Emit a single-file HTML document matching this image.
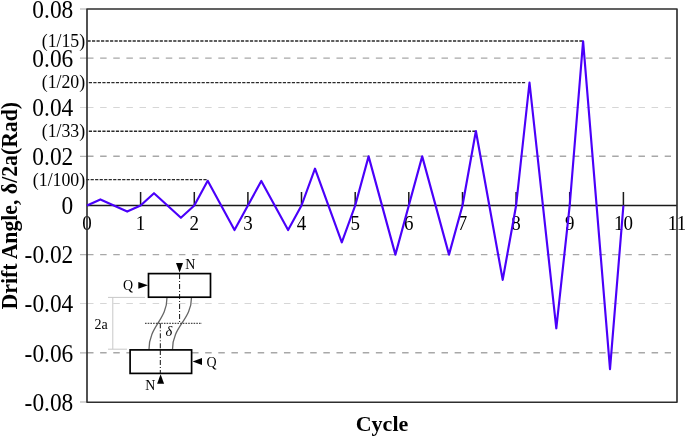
<!DOCTYPE html>
<html><head><meta charset="utf-8">
<style>
html,body{margin:0;padding:0;background:#fff;}
body{width:685px;height:438px;overflow:hidden;}
svg{display:block;will-change:transform;}
text{font-family:"Liberation Serif",serif;}
</style></head>
<body>
<svg width="685" height="438" viewBox="0 0 685 438">
<rect x="0" y="0" width="685" height="438" fill="#fff"/>
<!-- y tick labels -->
<g font-size="24" text-anchor="end" fill="#000">
<text transform="translate(73.3,17.70) scale(0.975,1.09)">0.08</text>
<text transform="translate(73.3,66.82) scale(0.975,1.09)">0.06</text>
<text transform="translate(73.3,115.95) scale(0.975,1.09)">0.04</text>
<text transform="translate(73.3,165.08) scale(0.975,1.09)">0.02</text>
<text transform="translate(73.3,214.20) scale(0.975,1.09)">0</text>
<text transform="translate(73.3,263.32) scale(0.975,1.09)">-0.02</text>
<text transform="translate(73.3,312.45) scale(0.975,1.09)">-0.04</text>
<text transform="translate(73.3,361.58) scale(0.975,1.09)">-0.06</text>
<text transform="translate(73.3,410.70) scale(0.975,1.09)">-0.08</text>
</g>
<g font-size="17.8" text-anchor="end" fill="#000">
<text x="85.2" y="46.5">(1/15)</text>
<text x="85.2" y="87.5">(1/20)</text>
<text x="85.2" y="136.6">(1/33)</text>
<text x="85.2" y="185.7">(1/100)</text>
</g>
<!-- x tick labels -->
<g font-size="20" text-anchor="middle" fill="#000">
<text transform="translate(87.0,230.3) scale(0.95,1)">0</text>
<text transform="translate(140.6,230.3) scale(0.95,1)">1</text>
<text transform="translate(194.3,230.3) scale(0.95,1)">2</text>
<text transform="translate(247.9,230.3) scale(0.95,1)">3</text>
<text transform="translate(301.5,230.3) scale(0.95,1)">4</text>
<text transform="translate(355.2,230.3) scale(0.95,1)">5</text>
<text transform="translate(408.8,230.3) scale(0.95,1)">6</text>
<text transform="translate(462.5,230.3) scale(0.95,1)">7</text>
<text transform="translate(516.1,230.3) scale(0.95,1)">8</text>
<text transform="translate(569.7,230.3) scale(0.95,1)">9</text>
<text transform="translate(623.4,230.3) scale(0.95,1)">10</text>
<text transform="translate(677.0,230.3) scale(0.95,1)">11</text>
</g>
<!-- axis titles -->
<text x="382" y="431.1" font-size="22" font-weight="bold" text-anchor="middle">Cycle</text>
<text transform="translate(16.5,205.7) rotate(-90) scale(1,1.055)" font-size="21.75" font-weight="bold" text-anchor="middle">Drift Angle, δ/2a(Rad)</text>
<!-- gridlines -->
<g fill="none">
<path d="M80 58.1H87M80 156.3H87M80 254.6H87M80 352.8H87" stroke="#b4b4b4" stroke-width="1.3"/>
<path d="M80 107.5H87M80 303.5H87" stroke="#d8d8d8" stroke-width="1"/>
<path d="M80 9H87M80 402H87" stroke="#c8c8c8" stroke-width="1.3"/>
<g stroke="#a8a8a8" stroke-width="1.4" stroke-dasharray="6.5 6.63">
<path d="M87 58.1H671"/>
<path d="M87 156.3H671"/>
<path d="M87 254.6H671"/>
<path d="M87 352.8H671"/>
</g>
<g stroke="#d6d6d6" stroke-width="1" stroke-dasharray="6.5 6.63">
<path d="M87 107.5H671"/>
<path d="M87 303.5H671"/>
</g>
</g>
<!-- reference dashed lines -->
<g stroke="#2a2a2a" stroke-width="1.4" fill="none" stroke-dasharray="3.2 1.312">
<path d="M87.49 41H582.5"/>
<path d="M88.8 82.6H525.5"/>
<path d="M88.8 131.2H475"/>
<path d="M86.09 179.6H207"/>
</g>
<!-- x ticks and zero line -->
<g stroke="#1a1a1a" stroke-width="1.5" fill="none">
<path d="M87 205.5H677"/>
<path d="M140.6 192V205.5M194.3 192V205.5M247.9 192V205.5M301.5 192V205.5M355.2 192V205.5M408.8 192V205.5M462.5 192V205.5M516.1 192V205.5M569.7 192V205.5M623.4 192V205.5"/>
</g>
<!-- frame -->
<rect x="87" y="9" width="590" height="393.2" fill="none" stroke="#2e2e2e" stroke-width="1.65" stroke-linejoin="round"/>
<!-- inset diagram -->
<g>
<path d="M108 297.4H145M112.8 297.4V349.2M108 349.2H127" stroke="#c8c8c8" stroke-width="1" fill="none"/>
<text x="101.2" y="328.9" font-size="14" text-anchor="middle">2a</text>
<path d="M167 297.4C167 320 149 326 149 349.2M191.5 297.4C191.5 320 172.5 326 172.5 349.2" stroke="#666" stroke-width="1.3" fill="none"/>
<path d="M145 323.3H202" stroke="#222" stroke-width="1" stroke-dasharray="1.6 1.1" fill="none"/>
<path d="M179.6 274V323.3M160.3 323.3V374" stroke="#111" stroke-width="1" stroke-dasharray="5 2 1 2" fill="none"/>
<rect x="148.5" y="273.6" width="62" height="23.6" fill="#fff" stroke="#000" stroke-width="1.7"/>
<rect x="130.1" y="349.9" width="61.5" height="23.5" fill="#fff" stroke="#000" stroke-width="1.7"/>
<path d="M179.6 274V297M160.3 350V373" stroke="#111" stroke-width="1" stroke-dasharray="5 2 1 2" fill="none"/>
<path d="M176 263H183L179.6 272.5Z" fill="#000"/>
<path d="M138.3 281.9V288.7L148 285.3Z" fill="#000"/>
<path d="M202 358V365L192.6 361.5Z" fill="#000"/>
<path d="M157.1 383.7H164.1L160.6 374.3Z" fill="#000"/>
<g font-size="14" fill="#000">
<text x="185.2" y="268.7">N</text>
<text x="123" y="289.8">Q</text>
<text x="206.5" y="366.8">Q</text>
<text x="145.3" y="389.5">N</text>
<text x="165.5" y="336.2" font-style="italic" font-size="14.5">δ</text>
</g>
</g>
<!-- data line -->
<polyline fill="none" stroke="#4a00fa" stroke-width="2.15" stroke-linejoin="round" points="87.0,205.5 100.4,199.4 127.2,211.6 140.6,205.5 154.0,193.2 180.9,217.8 194.3,205.5 207.7,180.8 234.5,230.1 247.9,205.5 261.3,180.9 288.1,230.1 301.5,205.5 315.0,168.7 341.8,242.3 355.2,205.5 368.6,156.4 395.4,254.6 408.8,205.5 422.2,156.4 449.0,254.6 462.5,205.5 475.9,131.0 502.7,279.9 516.1,205.5 529.5,82.5 556.3,328.3 569.7,205.5 583.1,41.2 610.0,369.2 623.4,205.5"/>
</svg>
</body></html>
